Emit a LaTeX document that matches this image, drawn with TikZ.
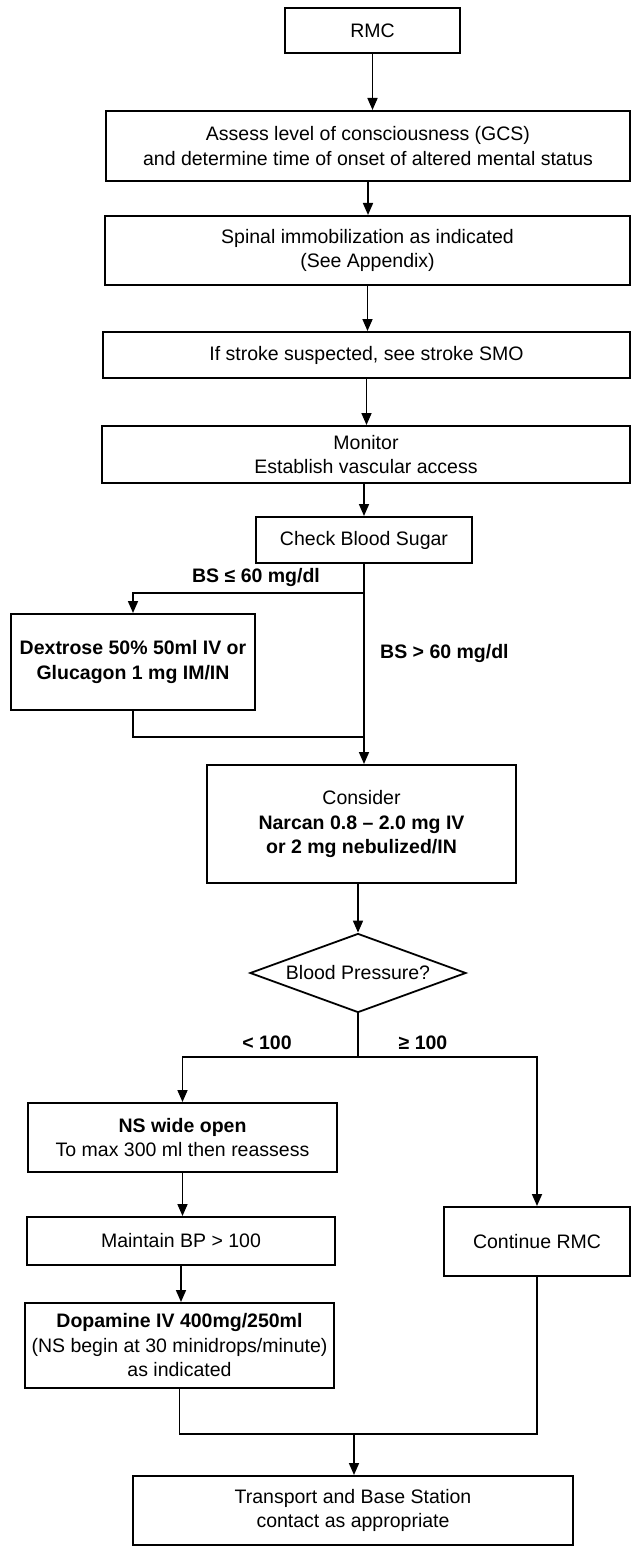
\documentclass[tikz,border=0pt]{standalone}
\usepackage{fontspec}
\setmainfont{Liberation Sans}
\usetikzlibrary{arrows.meta,shapes.geometric}
\begin{document}
\begin{tikzpicture}[x=1pt,y=-1pt,
  txt/.style={font=\fontsize{19.5}{24.5}\selectfont},
  box/.style={txt,draw,line width=2pt,align=center,inner sep=0pt},
  dia/.style={txt,draw,line width=1.8pt,shape=diamond,aspect=2.73,inner sep=0pt},
  conn/.style={line width=1.7pt},
  arr/.style={conn,-{Triangle[length=12pt,width=10pt]}},
  lbl/.style={txt,font=\fontsize{19.5}{24.5}\selectfont\bfseries,inner sep=0pt}]
\useasboundingbox (0,0) rectangle (633,1546);

\node[box,minimum width=175pt,minimum height=45pt] (rmc) at (372.5,30.5) {RMC};
\node[box,minimum width=524pt,minimum height=70pt] (assess) at (368,146) {Assess level of consciousness (GCS)\\and determine time of onset of altered mental status};
\node[box,minimum width=525pt,minimum height=69pt] (spinal) at (367.5,250.5) {Spinal immobilization as indicated\\(See Appendix)};
\node[box,minimum width=527pt,minimum height=46pt] (stroke) at (366.5,355) {If stroke suspected, see stroke SMO};
\node[box,minimum width=528pt,minimum height=57pt] (monitor) at (366,454.5) {Monitor\\Establish vascular access};
\node[box,minimum width=216pt,minimum height=46pt] (check) at (364,540) {Check Blood Sugar};
\node[box,minimum width=244pt,minimum height=96pt] (dex) at (133,662) {\bfseries Dextrose 50\% 50ml IV or\\\bfseries Glucagon 1 mg IM/IN};
\node[box,minimum width=309pt,minimum height=118pt] (narcan) at (361.5,824) {Consider\\\bfseries Narcan 0.8 – 2.0 mg IV\\\bfseries or 2 mg nebulized/IN};
\node[dia,minimum width=216pt,minimum height=79pt] (bp) at (358,973) {Blood Pressure?};
\node[box,minimum width=309pt,minimum height=69pt] (ns) at (182.5,1137.5) {\bfseries NS wide open\\To max 300 ml then reassess};
\node[box,minimum width=308pt,minimum height=48pt] (maintain) at (181,1241) {Maintain BP > 100};
\node[box,minimum width=309pt,minimum height=85pt] (dopa) at (179.5,1345.5) {\bfseries Dopamine IV 400mg/250ml\\(NS begin at 30 minidrops/minute)\\as indicated};
\node[box,minimum width=186pt,minimum height=69pt] (cont) at (537,1241.5) {Continue RMC};
\node[box,minimum width=440pt,minimum height=69pt] (trans) at (353,1510.5) {Transport and Base Station\\contact as appropriate};

\node[lbl] (l1) at (256,577) {BS ≤ 60 mg/dl};
\node[lbl,anchor=west] (l2) at (380,653) {BS > 60 mg/dl};
\node[lbl] (l3) at (267,1043) {< 100};
\node[lbl] (l4) at (423,1043) {≥ 100};

\coordinate (j1) at (364,593);
\coordinate (j2) at (364,737);
\coordinate (j3) at (358,1057);
\coordinate (j4) at (354,1434);

\draw[arr] (rmc.south) -- (rmc.south |- assess.north);
\draw[arr] (assess.south) -- (assess.south |- spinal.north);
\draw[arr] (spinal.south) -- (spinal.south |- stroke.north);
\draw[arr] (stroke.south) -- (stroke.south |- monitor.north);
\draw[arr] (monitor.south -| check.north) -- (check.north);
\draw[arr] (check.south) -- (check.south |- narcan.north);
\draw[arr] (j1) -| (dex.north);
\draw[conn] (dex.south) |- (j2);
\draw[arr] (narcan.south -| bp.north) -- (bp.north);
\draw[conn] (bp.south) -- (j3);
\draw[arr] (j3) -| (ns.north);
\draw[arr] (j3) -| (cont.north);
\draw[arr] (ns.south) -- (ns.south |- maintain.north);
\draw[arr] (maintain.south) -- (maintain.south |- dopa.north);
\draw[conn] (dopa.south) |- (cont.south |- j4) -- (cont.south);
\draw[arr] (j4) -- (j4 |- trans.north);
\end{tikzpicture}
\end{document}
